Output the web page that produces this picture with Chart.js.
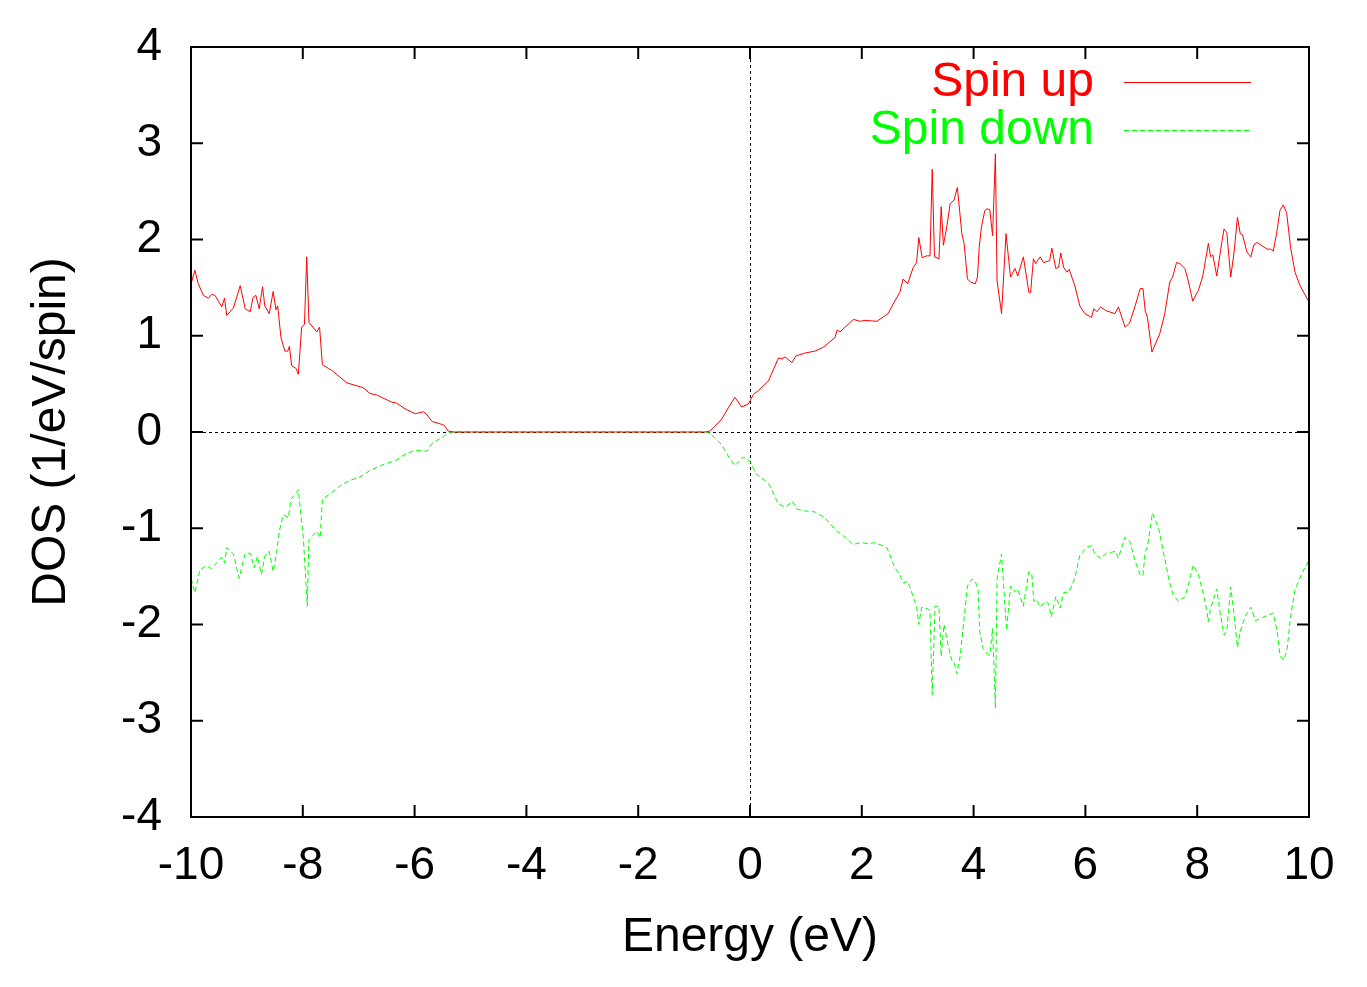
<!DOCTYPE html>
<html>
<head>
<meta charset="utf-8">
<script src="https://cdn.jsdelivr.net/npm/chart.js@4"></script>
<style>
  html, body { margin: 0; padding: 0; background: #fff; }
  #wrap { width: 1367px; height: 987px; }
</style>
</head>
<body>
<div id="wrap"><canvas id="c" width="1367" height="987"></canvas></div>
<script>
// ---- data ----
const energyUp = [-10.0,-9.93,-9.87,-9.78,-9.69,-9.63,-9.57,-9.45,-9.40,-9.36,-9.24,-9.12,-9.03,-8.94,-8.89,-8.84,-8.78,-8.72,-8.68,-8.60,-8.53,-8.48,-8.45,-8.39,-8.32,-8.27,-8.24,-8.20,-8.12,-8.08,-8.02,-7.97,-7.93,-7.89,-7.75,-7.70,-7.65,-7.54,-7.48,-7.21,-6.92,-6.80,-6.68,-6.41,-6.32,-6.17,-5.99,-5.84,-5.78,-5.69,-5.52,-5.47,-5.40,-5.30,-0.80,-0.72,-0.51,-0.39,-0.27,-0.15,-0.03,0.06,0.15,0.33,0.51,0.57,0.63,0.75,0.82,0.98,1.16,1.31,1.52,1.56,1.61,1.85,1.97,2.06,2.27,2.47,2.59,2.68,2.74,2.82,2.92,2.98,3.02,3.08,3.16,3.22,3.26,3.30,3.38,3.42,3.46,3.52,3.58,3.65,3.71,3.79,3.83,3.89,3.94,4.03,4.07,4.10,4.14,4.20,4.24,4.29,4.34,4.39,4.42,4.50,4.58,4.66,4.74,4.79,4.89,4.99,5.02,5.07,5.11,5.19,5.25,5.36,5.40,5.47,5.52,5.56,5.61,5.67,5.71,5.81,5.90,5.99,6.11,6.15,6.21,6.27,6.37,6.53,6.59,6.71,6.79,6.89,6.98,7.03,7.07,7.11,7.19,7.33,7.42,7.51,7.56,7.63,7.69,7.78,7.84,7.92,8.02,8.10,8.15,8.20,8.24,8.28,8.35,8.44,8.48,8.53,8.60,8.66,8.72,8.77,8.81,8.89,8.96,9.01,9.07,9.25,9.31,9.36,9.42,9.48,9.54,9.60,9.67,9.75,9.84,10.0];
const dosUp = [1.54,1.68,1.54,1.42,1.39,1.43,1.42,1.30,1.39,1.21,1.29,1.52,1.28,1.25,1.40,1.42,1.28,1.51,1.31,1.23,1.46,1.27,1.31,0.98,0.84,0.84,0.89,0.69,0.66,0.60,1.09,1.12,1.82,1.14,1.04,1.09,0.70,0.66,0.64,0.51,0.46,0.40,0.385,0.31,0.30,0.24,0.19,0.21,0.18,0.11,0.08,0.07,0.01,0,0,0.01,0.13,0.25,0.36,0.26,0.29,0.39,0.43,0.53,0.77,0.76,0.78,0.72,0.79,0.82,0.84,0.88,0.98,1.06,1.04,1.17,1.15,1.16,1.15,1.23,1.36,1.45,1.59,1.54,1.71,1.76,2.02,1.81,1.83,1.83,2.73,1.82,1.80,2.34,1.94,2.13,2.37,2.41,2.54,2.06,1.96,1.59,1.56,1.54,1.61,1.92,2.13,2.30,2.32,2.31,2.04,2.89,1.57,1.23,2.06,1.61,1.70,1.62,1.82,1.45,1.45,1.80,1.75,1.82,1.76,1.78,1.91,1.70,1.71,1.86,1.71,1.66,1.69,1.52,1.31,1.23,1.19,1.28,1.25,1.30,1.26,1.23,1.30,1.09,1.13,1.31,1.49,1.49,1.26,1.19,0.83,1.02,1.23,1.56,1.61,1.76,1.75,1.70,1.57,1.36,1.47,1.62,1.79,1.96,1.82,1.84,1.62,1.97,2.11,2.07,1.61,1.87,2.23,2.06,2.05,1.87,1.82,1.94,1.97,1.90,1.90,1.88,2.06,2.30,2.36,2.28,1.92,1.66,1.52,1.35];

const energyDown = [-10.0,-9.93,-9.84,-9.72,-9.63,-9.54,-9.45,-9.40,-9.36,-9.24,-9.14,-9.03,-8.94,-8.87,-8.81,-8.74,-8.68,-8.60,-8.53,-8.47,-8.42,-8.35,-8.26,-8.21,-8.08,-7.99,-7.92,-7.89,-7.75,-7.69,-7.65,-7.51,-7.33,-7.19,-6.95,-6.80,-6.53,-6.35,-6.17,-5.99,-5.78,-5.69,-5.52,-5.40,-5.30,-0.80,-0.72,-0.51,-0.39,-0.27,-0.12,-0.01,0.12,0.33,0.51,0.63,0.76,0.83,0.98,1.16,1.34,1.55,1.61,1.85,1.97,2.12,2.24,2.45,2.59,2.68,2.74,2.82,2.92,2.98,3.02,3.07,3.19,3.22,3.26,3.31,3.38,3.42,3.47,3.55,3.61,3.65,3.70,3.76,3.82,3.89,3.97,4.03,4.08,4.11,4.17,4.24,4.29,4.34,4.39,4.42,4.50,4.59,4.66,4.74,4.79,4.89,4.99,5.04,5.08,5.13,5.19,5.28,5.34,5.39,5.47,5.55,5.61,5.71,5.81,5.90,6.02,6.11,6.17,6.27,6.38,6.54,6.59,6.71,6.79,6.89,6.98,7.03,7.07,7.11,7.20,7.31,7.40,7.50,7.57,7.66,7.78,7.84,7.93,8.02,8.10,8.15,8.20,8.24,8.35,8.41,8.48,8.53,8.60,8.66,8.72,8.77,8.87,8.96,9.04,9.16,9.36,9.43,9.48,9.55,9.61,9.67,9.75,9.87,10.0];
const dosDown = [-1.52,-1.67,-1.43,-1.39,-1.42,-1.36,-1.30,-1.36,-1.20,-1.27,-1.52,-1.26,-1.26,-1.41,-1.29,-1.48,-1.29,-1.24,-1.45,-1.26,-1.03,-0.86,-0.89,-0.70,-0.60,-1.10,-1.81,-1.12,-1.03,-1.10,-0.70,-0.64,-0.56,-0.51,-0.46,-0.40,-0.33,-0.30,-0.23,-0.19,-0.20,-0.12,-0.06,-0.01,0,0,-0.01,-0.13,-0.25,-0.35,-0.26,-0.30,-0.44,-0.53,-0.75,-0.78,-0.72,-0.80,-0.82,-0.83,-0.89,-1.03,-1.05,-1.17,-1.15,-1.16,-1.15,-1.20,-1.41,-1.48,-1.57,-1.55,-1.71,-1.81,-2.00,-1.82,-1.84,-1.86,-2.73,-1.81,-1.81,-2.33,-2.00,-2.23,-2.37,-2.39,-2.51,-2.33,-1.99,-1.60,-1.53,-1.55,-1.64,-2.07,-2.25,-2.30,-2.32,-2.04,-2.87,-1.52,-1.27,-2.06,-1.60,-1.66,-1.63,-1.81,-1.45,-1.47,-1.76,-1.74,-1.82,-1.76,-1.78,-1.92,-1.71,-1.83,-1.67,-1.66,-1.52,-1.28,-1.20,-1.18,-1.27,-1.31,-1.26,-1.24,-1.31,-1.09,-1.13,-1.34,-1.49,-1.49,-1.24,-1.19,-0.84,-1.00,-1.26,-1.55,-1.69,-1.76,-1.71,-1.59,-1.38,-1.48,-1.66,-1.79,-1.97,-1.83,-1.63,-1.88,-2.11,-2.06,-1.61,-1.90,-2.24,-2.07,-1.90,-1.82,-1.96,-1.93,-1.88,-2.07,-2.32,-2.37,-2.25,-1.92,-1.64,-1.47,-1.33];

const seriesLabels = ['Spin up', 'Spin down'];
const xTicks = [-10,-8,-6,-4,-2,0,2,4,6,8,10];
const yTicks = [-4,-3,-2,-1,0,1,2,3,4];
const xTitle = 'Energy (eV)';
const yTitle = 'DOS (1/eV/spin)';

const FONT = "'Liberation Sans', Arial, sans-serif";
const toPts = (xs, ys) => xs.map((x, i) => ({x, y: ys[i]}));

const framePlugin = {
  id: 'gnuFrame',
  beforeDatasetsDraw(chart) {
    const {ctx, chartArea: a, scales: {x, y}} = chart;
    ctx.save();
    ctx.strokeStyle = '#000';
    ctx.lineWidth = 1;
    ctx.setLineDash([3, 3]);
    const x0 = Math.round(x.getPixelForValue(0)) + 0.5;
    const y0 = Math.round(y.getPixelForValue(0)) + 0.5;
    ctx.beginPath();
    ctx.moveTo(x0, a.top); ctx.lineTo(x0, a.bottom);
    ctx.moveTo(a.left, y0); ctx.lineTo(a.right, y0);
    ctx.stroke();
    ctx.restore();
  },
  afterDatasetsDraw(chart) {
    const {ctx, chartArea: a, scales: {x, y}} = chart;
    ctx.save();
    ctx.strokeStyle = '#000';
    ctx.lineWidth = 2;
    ctx.setLineDash([]);
    ctx.strokeRect(a.left, a.top, a.right - a.left, a.bottom - a.top);
    const L = 12;
    ctx.beginPath();
    xTicks.forEach(v => {
      const px = x.getPixelForValue(v);
      ctx.moveTo(px, a.bottom); ctx.lineTo(px, a.bottom - L);
      ctx.moveTo(px, a.top); ctx.lineTo(px, a.top + L);
    });
    yTicks.forEach(v => {
      const py = y.getPixelForValue(v);
      ctx.moveTo(a.left, py); ctx.lineTo(a.left + L, py);
      ctx.moveTo(a.right, py); ctx.lineTo(a.right - L, py);
    });
    ctx.stroke();

    // legend (gnuplot style: text right-aligned, sample line right of text)
    ctx.font = '48px ' + FONT;
    ctx.textAlign = 'right';
    ctx.textBaseline = 'middle';
    chart.data.datasets.forEach((ds, i) => {
      const ty = a.top + 36 + i * 48;
      ctx.fillStyle = ds.borderColor;
      ctx.fillText(ds.label, a.right - 215, ty);
      ctx.strokeStyle = ds.borderColor;
      ctx.lineWidth = 1;
      ctx.setLineDash(ds.borderDash || []);
      ctx.beginPath();
      ctx.moveTo(a.right - 185, Math.round(ty) - 0.5);
      ctx.lineTo(a.right - 58, Math.round(ty) - 0.5);
      ctx.stroke();
    });
    ctx.restore();
  }
};

new Chart(document.getElementById('c'), {
  type: 'line',
  data: {
    datasets: [
      { label: seriesLabels[0], data: toPts(energyUp, dosUp), borderColor: 'rgb(255,0,0)', borderWidth: 1, pointRadius: 0, tension: 0, fill: false },
      { label: seriesLabels[1], data: toPts(energyDown, dosDown), borderColor: 'rgb(0,255,0)', borderWidth: 1, borderDash: [5, 3], pointRadius: 0, tension: 0, fill: false }
    ]
  },
  plugins: [framePlugin],
  options: {
    responsive: false,
    devicePixelRatio: 1,
    animation: false,
    layout: { padding: { top: 47, right: 58, left: 0, bottom: 0 } },
    plugins: { legend: { display: false }, tooltip: { enabled: false } },
    scales: {
      x: {
        type: 'linear', min: -10, max: 10,
        afterBuildTicks(s) { s.ticks = xTicks.map(v => ({value: v})); },
        afterFit(s) { s.height = 170; s.paddingLeft = 0; s.paddingRight = 0; },
        grid: { display: false, drawTicks: false },
        border: { display: false },
        ticks: { color: '#000', font: { family: FONT, size: 46 }, padding: 22, maxRotation: 0, autoSkip: false },
        title: { display: true, text: xTitle, color: '#000', font: { family: FONT, size: 48 }, padding: { top: 0, bottom: 20 } }
      },
      y: {
        type: 'linear', min: -4, max: 4,
        afterBuildTicks(s) { s.ticks = yTicks.map(v => ({value: v})); },
        afterFit(s) { s.width = 191; s.paddingTop = 0; s.paddingBottom = 0; },
        grid: { display: false, drawTicks: false },
        border: { display: false },
        ticks: { color: '#000', font: { family: FONT, size: 46 }, padding: 29, autoSkip: false },
        title: { display: true, text: yTitle, color: '#000', font: { family: FONT, size: 48 }, padding: { top: 23, bottom: 0 } }
      }
    }
  }
});
</script>
</body>
</html>
